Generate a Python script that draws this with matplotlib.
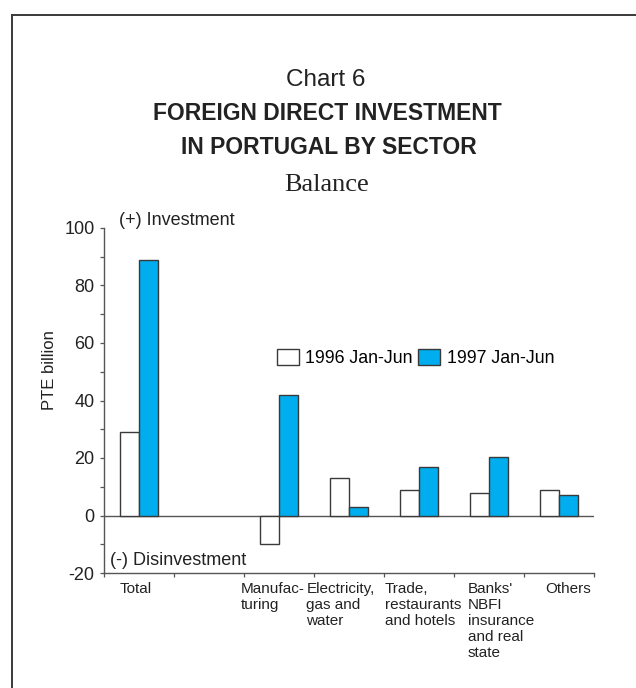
import matplotlib
matplotlib.use("Agg")
import matplotlib.pyplot as plt
import numpy as np
from matplotlib.patches import Patch
from matplotlib.lines import Line2D

# Data (PTE billion)
sectors = ["Total", "", "Manufac-\nturing", "Electricity,\ngas and\nwater",
           "Trade,\nrestaurants\nand hotels", "Banks'\nNBFI\ninsurance\nand real\nstate",
           "Others"]
h1996 = [29, np.nan, -10, 13, 9, 8, 9]
h1997 = [89, np.nan, 42, 3, 17, 20.5, 7]
series_labels = ["1996 Jan-Jun", "1997 Jan-Jun"]

W, H = 636, 688
plt.rcParams['font.family'] = ['Liberation Sans', 'DejaVu Sans']
plt.rcParams['axes.unicode_minus'] = False

fig = plt.figure(figsize=(W / 100, H / 100), dpi=100)


def fx(px):
    return px / W


def fy(py):
    return 1 - py / H


BLUE = "#00ADEF"
EDGE = "#3a3a3a"
AXC = "#555555"
TXT = "#222222"

ax = fig.add_axes([fx(104), fy(573), fx(594) - fx(104), fy(228) - fy(573)])
x = np.arange(len(sectors))
bw = 0.27
ax.bar(x - bw / 2, h1996, bw, color="white", edgecolor=EDGE, linewidth=1.0, zorder=3)
ax.bar(x + bw / 2, h1997, bw, color=BLUE, edgecolor=EDGE, linewidth=1.0, zorder=3)

ax.set_xlim(-0.5, len(sectors) - 0.5)
ax.set_ylim(-20, 100)
ax.axhline(0, color=AXC, linewidth=1.0, zorder=2)

for s in ["top", "right"]:
    ax.spines[s].set_visible(False)
for s in ["left", "bottom"]:
    ax.spines[s].set_color(AXC)
    ax.spines[s].set_linewidth(1.0)

ax.set_yticks(np.arange(-20, 101, 20))
ax.set_yticks(np.arange(-10, 100, 20), minor=True)
ax.set_xticks(np.arange(-0.5, len(sectors), 1.0))
ax.set_xticklabels([])
ax.tick_params(axis="y", which="both", direction="out", length=2.6, width=0.9,
               color=AXC, labelsize=13, pad=4.2, labelcolor=TXT)
ax.tick_params(axis="x", which="both", direction="out", length=3, width=0.9,
               color=AXC)

# Category labels, left aligned under each group
label_offsets = [-0.28, 0, -0.54, -0.61, -0.49, -0.30, -0.20]
for xi, lab, off in zip(x, sectors, label_offsets):
    if not lab:
        continue
    ax.text(xi + off, -0.025, lab, transform=ax.get_xaxis_transform(),
            ha="left", va="top", fontsize=11, linespacing=1.2, color=TXT)

ax.text(0.03, 101.2, "(+) Investment", fontsize=13, ha="left", va="baseline",
        transform=ax.get_yaxis_transform(), color=TXT)
ax.text(0.013, -15.5, "(-) Disinvestment", fontsize=13, ha="left", va="center",
        transform=ax.get_yaxis_transform(), color=TXT)

fig.text(fx(49), fy(370), "PTE billion", rotation=90, ha="center", va="center",
         fontsize=12, color=TXT)

# Legend
handles = [Patch(facecolor="white", edgecolor=EDGE, linewidth=1.0),
           Patch(facecolor=BLUE, edgecolor=EDGE, linewidth=1.0)]
fig.legend(handles, series_labels, ncol=2, frameon=False, fontsize=12.8,
           loc="center left", bbox_to_anchor=(fx(277), fy(358)),
           bbox_transform=fig.transFigure, borderpad=0, borderaxespad=0,
           handlelength=1.22, handleheight=0.97, handletextpad=0.38,
           columnspacing=0.3)

# Titles
fig.text(fx(326), fy(86), "Chart 6", ha="center", va="baseline", fontsize=17.5,
         color=TXT)
fig.text(fx(327), fy(119.5), "FOREIGN DIRECT INVESTMENT", ha="center", va="baseline",
         fontsize=16.5, fontweight="bold", color=TXT)
fig.text(fx(329), fy(154.5), "IN PORTUGAL BY SECTOR", ha="center", va="baseline",
         fontsize=16.5, fontweight="bold", color=TXT)
fig.text(fx(327), fy(191), "Balance", ha="center", va="baseline", fontsize=19,
         family=["Liberation Serif", "DejaVu Serif"], color=TXT)

# Frame lines along the top and left edges
fig.add_artist(Line2D([fx(11.5), 1.0], [fy(14.5), fy(14.5)], transform=fig.transFigure,
                      color="#3a3a3a", linewidth=1.4))
fig.add_artist(Line2D([fx(11.5), fx(11.5)], [fy(14.5), 0.0], transform=fig.transFigure,
                      color="#3a3a3a", linewidth=1.4))

fig.savefig("out.png", dpi=100, facecolor="white")
